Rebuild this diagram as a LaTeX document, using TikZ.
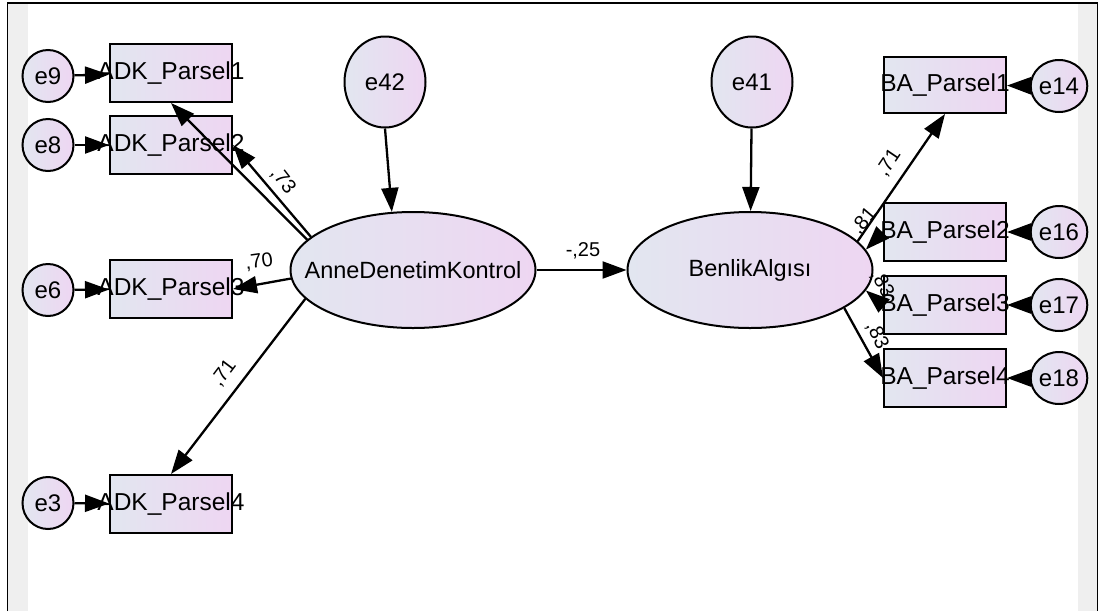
\documentclass[tikz,border=0pt]{standalone}
\usepackage{fontspec}
\setmainfont{Liberation Sans}
\usetikzlibrary{arrows.meta,shapes.geometric}
\definecolor{fillleft}{RGB}{226,230,240}
\definecolor{fillright}{RGB}{238,214,242}
\definecolor{stripgray}{RGB}{239,239,239}
\begin{document}
\begin{tikzpicture}[x=1pt,y=-1pt,->,>={Triangle[length=24pt,width=17pt]},
  line width=2.3pt,
  obs node/.style={rectangle,draw,line width=2pt,left color=fillleft,right color=fillright,
    minimum width=122pt,minimum height=58pt,inner sep=0pt,font=\fontsize{24.5}{26}\selectfont},
  err node/.style={ellipse,draw,line width=2pt,left color=fillleft,right color=fillright,
    minimum width=51pt,minimum height=52pt,inner sep=0pt,font=\fontsize{24}{26}\selectfont},
  res node/.style={err node,minimum width=81pt,minimum height=91pt},
  lat node/.style={err node,minimum width=245pt,minimum height=116pt,font=\fontsize{23.5}{26}\selectfont},
  coef/.style={font=\fontsize{20}{22}\selectfont,inner sep=0pt}]

  % page and frame
  \useasboundingbox (0,0) rectangle (1101,611);
  \fill[white] (0,0) rectangle (1101,611);
  \fill[stripgray] (8,3) rectangle (28,611);
  \fill[stripgray] (1078,3) rectangle (1097,611);
  \draw[-,line width=1.2pt] (7.5,611) -- (7.5,3) -- (1097.5,3) -- (1097.5,611);

  % left block
  \node[obs node] (adk1) at (171,73) {\makebox[0pt]{ADK\_Parsel1}};
  \node[obs node] (adk2) at (171,145) {\makebox[0pt]{ADK\_Parsel2}};
  \node[obs node] (adk3) at (171,289) {\makebox[0pt]{ADK\_Parsel3}};
  \node[obs node] (adk4) at (171,504) {\makebox[0pt]{ADK\_Parsel4}};
  \node[err node] (e9) at (48,76) {e9};
  \node[err node] (e8) at (48,145) {e8};
  \node[err node] (e6) at (48,290) {e6};
  \node[err node] (e3) at (48,503) {e3};

  % latent variables
  \node[res node] (e42) at (385,82) {e42};
  \node[res node] (e41) at (752,82) {e41};
  \node[lat node] (adk) at (413,270) {\makebox[0pt]{AnneDenetimKontrol}};
  \node[lat node] (ba) at (750,270) {\makebox[0pt]{BenlikAlgısı}};

  % right block
  \node[obs node,minimum height=56pt] (ba1) at (945,85) {\makebox[0pt]{BA\_Parsel1}};
  \node[obs node] (ba2) at (945,232) {\makebox[0pt]{BA\_Parsel2}};
  \node[obs node] (ba3) at (945,305) {\makebox[0pt]{BA\_Parsel3}};
  \node[obs node] (ba4) at (945,378) {\makebox[0pt]{BA\_Parsel4}};
  \node[err node] (e14) at (1059,86) {e14};
  \node[err node] (e16) at (1059,232) {e16};
  \node[err node] (e17) at (1059,305) {e17};
  \node[err node] (e18) at (1059,378) {e18};

  \path (e9) edge (adk1)
        (e8) edge (adk2)
        (e6) edge (adk3)
        (e3) edge (adk4)
        (e14) edge (ba1)
        (e16) edge (ba2)
        (e17) edge (ba3)
        (e18) edge (ba4);

  \path (adk.164) edge (adk1.south)
        (adk.162) edge (adk2.east)
        (adk.184) edge (adk3.east)
        (adk.195) edge (adk4.north)
        (e42.south) edge (adk.110)
        (e41) edge (ba)
        (adk) edge (ba)
        (ba.15) edge (ba1.south)
        (ba2.west) edge (ba.10)
        (ba3.west) edge (ba.-10)
        (ba.-22) edge (ba4.west);

  % coefficients
  \node[coef,rotate=-52] (c73) at (283,181) {,73};
  \node[coef,rotate=8] (c70) at (259,262) {,70};
  \node[coef,rotate=53] (c71a) at (224,373) {,71};
  \node[coef] (c25) at (583,251) {-,25};
  \node[coef,rotate=56] (c71b) at (889,163) {,71};
  \node[coef,rotate=50] (c81) at (864,221) {,81};
  \node[coef,rotate=-60] (c83a) at (882,284) {,83};
  \node[coef,rotate=-65] (c83b) at (877,336) {,83};
\end{tikzpicture}
\end{document}
